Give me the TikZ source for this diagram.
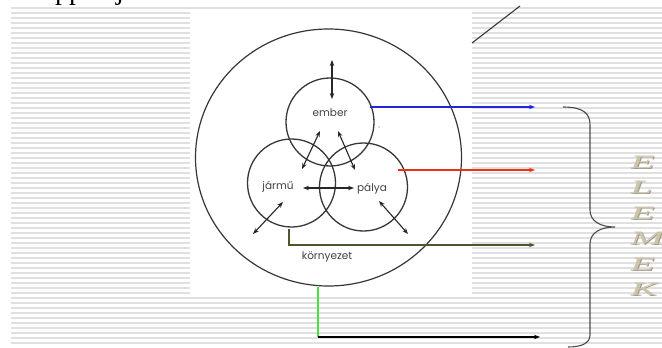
\documentclass[tikz,border=0pt]{standalone}
\usepackage{fontspec}
\setmainfont{Liberation Serif}
\newfontfamily\labfont{Poppins}
\usetikzlibrary{arrows.meta}
\definecolor{stripe}{RGB}{224,224,224}
\definecolor{ringc}{RGB}{55,55,55}
\definecolor{bluec}{RGB}{35,35,225}
\definecolor{redc}{RGB}{235,50,20}
\definecolor{olivec}{RGB}{75,88,45}
\definecolor{greenc}{RGB}{70,225,70}
\definecolor{beige}{RGB}{205,196,170}
\definecolor{beigesh}{RGB}{160,155,140}
\begin{document}
\begin{tikzpicture}[x=1pt,y=-1pt,
  stripeline/.style={draw=stripe,line width=1.4pt},
  ring/.style={circle,draw=ringc,line width=1.3pt,minimum size=88pt,inner sep=0pt},
  lab/.style={font=\labfont\fontsize{10.5}{10.5}\selectfont,text=black!75,inner sep=0pt},
  dbl/.style={{Stealth[length=6pt,width=4.5pt]}-{Stealth[length=6pt,width=4.5pt]},line width=1.1pt,draw=black!85},
  outarrow/.style={-{Stealth[length=6pt,width=4.5pt]},line width=1.2pt},
  letter/.style={font=\fontsize{19}{19}\selectfont\itshape,anchor=west,inner sep=0pt,xscale=2.1}
]
\useasboundingbox (0,0) rectangle (662,348);
\fill[white] (0,0) rectangle (662,348);
% striped background
\foreach \yy in {8,13,...,343} \draw[stripeline] (11,\yy) -- (662,\yy);
% white panel
\fill[white] (190,12) rectangle (472,297);
% title fragment cut by the top edge
\node[font=\fontsize{28}{28}\selectfont,anchor=base west,inner sep=0pt] (t1) at (55,-1) {pp};
\node[font=\fontsize{28}{28}\selectfont,anchor=base west,inner sep=0pt] (t2) at (116,-1) {j};
% diagonal line top right
\coordinate (d1) at (472,43);
\coordinate (d2) at (520,6);
\draw[ringc,line width=1.1pt] (d1) -- (d2);
% big circle
\draw[ringc,line width=1.2pt] (328.5,157.5) ellipse [x radius=133,y radius=128.5];
% three circles
\node[ring] (E) at (330,122) {};
\node[ring] (J) at (291.5,183) {};
\node[ring] (P) at (363.5,187) {};
% labels
\node[lab] (le) at (330,113) {ember};
\node[lab] (lj) at (278,187) {jármű};
\node[lab] (lp) at (372,189) {pálya};
\node[lab] (lk) at (327,257) {környezet};
\fill[black!60] (379,127) circle (0.6);
% double arrows
\coordinate (a1) at (332,60);  \coordinate (a2) at (332,99);
\coordinate (b1) at (320,131); \coordinate (b2) at (302,169);
\coordinate (c1) at (338,131); \coordinate (c2) at (355,170);
\coordinate (g1) at (303,188); \coordinate (g2) at (354,188);
\coordinate (e1) at (283,202); \coordinate (e2) at (253,234);
\coordinate (f1) at (379,201); \coordinate (f2) at (408,234);
\draw[dbl] (a1) -- (a2);
\draw[dbl] (b1) -- (b2);
\draw[dbl] (c1) -- (c2);
\draw[dbl] (g1) -- (g2);
\draw[dbl] (e1) -- (e2);
\draw[dbl] (f1) -- (f2);
% output arrows
\coordinate (s1) at (370,107); \coordinate (t1e) at (535,107);
\coordinate (s2) at (398,170); \coordinate (t2e) at (535,170);
\coordinate (s3) at (289,229); \coordinate (k3) at (289,245); \coordinate (t3e) at (535,245);
\coordinate (s4) at (318,287); \coordinate (k4) at (318,337); \coordinate (t4e) at (540,337);
\draw[outarrow,bluec] (s1) -- (t1e);
\draw[outarrow,redc] (s2) -- (t2e);
\draw[outarrow,olivec] (s3) -- (k3) -- (t3e);
\draw[greenc,line width=1.2pt] (s4) -- (k4);
\draw[outarrow,black] (k4) -- (t4e);
% brace
\coordinate (br1) at (563,107);
\coordinate (brtip) at (615,227);
\coordinate (br2) at (568,347);
\draw[black!70,line width=1.1pt] (br1) .. controls (584,107) and (590,114) .. (590,125) -- (590,210)
  .. controls (590,221) and (600,227) .. (brtip)
  .. controls (600,227) and (590,233) .. (590,244) -- (590,335)
  .. controls (590,343) and (582,347) .. (br2);
% letters
\foreach \ch/\yy [count=\i] in {E/162,L/187.5,E/213,M/238.5,E/264,K/289.5}{
  \node[letter,text=beigesh] (sh\i) at (631,\yy+1) {\ch};
  \node[letter,text=beige] (ch\i) at (630,\yy) {\ch};
}
\end{tikzpicture}
\end{document}
